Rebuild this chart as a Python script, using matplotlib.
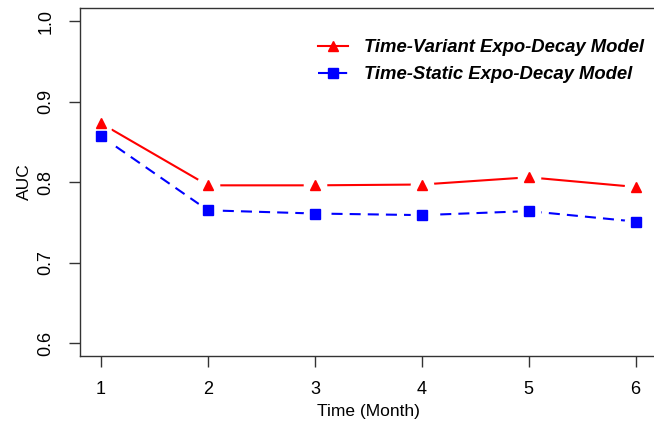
import numpy as np
import matplotlib.pyplot as plt

# AUC over time for the two expo-decay models
months = [1, 2, 3, 4, 5, 6]
auc_variant = [0.873, 0.796, 0.796, 0.797, 0.806, 0.794]
auc_static = [0.857, 0.765, 0.761, 0.759, 0.764, 0.751]
yticks = [0.6, 0.7, 0.8, 0.9, 1.0]

plt.rcParams['font.family'] = ['Liberation Sans', 'DejaVu Sans']

fig = plt.figure(figsize=(6.54, 4.29), dpi=100)
ax = fig.add_axes([0.1217, 0.170, 0.883, 0.811])

l1, = ax.plot(months, auc_variant, color='red', lw=1.5, marker='^', ms=7.5,
              mec='red', label='Time-Variant Expo-Decay Model', zorder=3)
l2, = ax.plot(months, auc_static, color='blue', lw=1.5, ls=(0, (5.3, 3.4)),
              marker='s', ms=6.5, mec='blue', label='Time-Static Expo-Decay Model', zorder=3)
# white halos so the lines stop short of the points (R type="b" look)
for ys in (auc_variant, auc_static):
    ax.plot(months, ys, ls='none', marker='o', ms=16, mfc='white', mec='white', zorder=4)
ax.plot(months, auc_variant, ls='none', marker='^', ms=7.5, color='red', zorder=5)
ax.plot(months, auc_static, ls='none', marker='s', ms=6.5, color='blue', zorder=5)

ax.set_xlim(0.8, 6.2)
ax.set_ylim(0.584, 1.016)
ax.set_xticks(months)
ax.set_yticks(yticks)
ax.set_yticklabels(['%.1f' % v for v in yticks], rotation=90, va='center')
ax.tick_params(axis='both', length=8, width=1, color='#333333', labelsize=13, pad=10)
for s in ax.spines.values():
    s.set_color('#333333')
    s.set_linewidth(1)

ax.set_xlabel('Time (Month)', fontsize=12.5, labelpad=4)
ax.set_ylabel('AUC', fontsize=12.5, labelpad=4)

leg = ax.legend(handles=[l1, l2], loc='upper left', bbox_to_anchor=(0.397, 0.937),
                frameon=False, numpoints=1, handlelength=1.6, handletextpad=0.9,
                labelspacing=0.55, borderpad=0,
                prop={'size': 13.3, 'weight': 'bold', 'style': 'italic'})

fig.savefig('out.png', dpi=100)
